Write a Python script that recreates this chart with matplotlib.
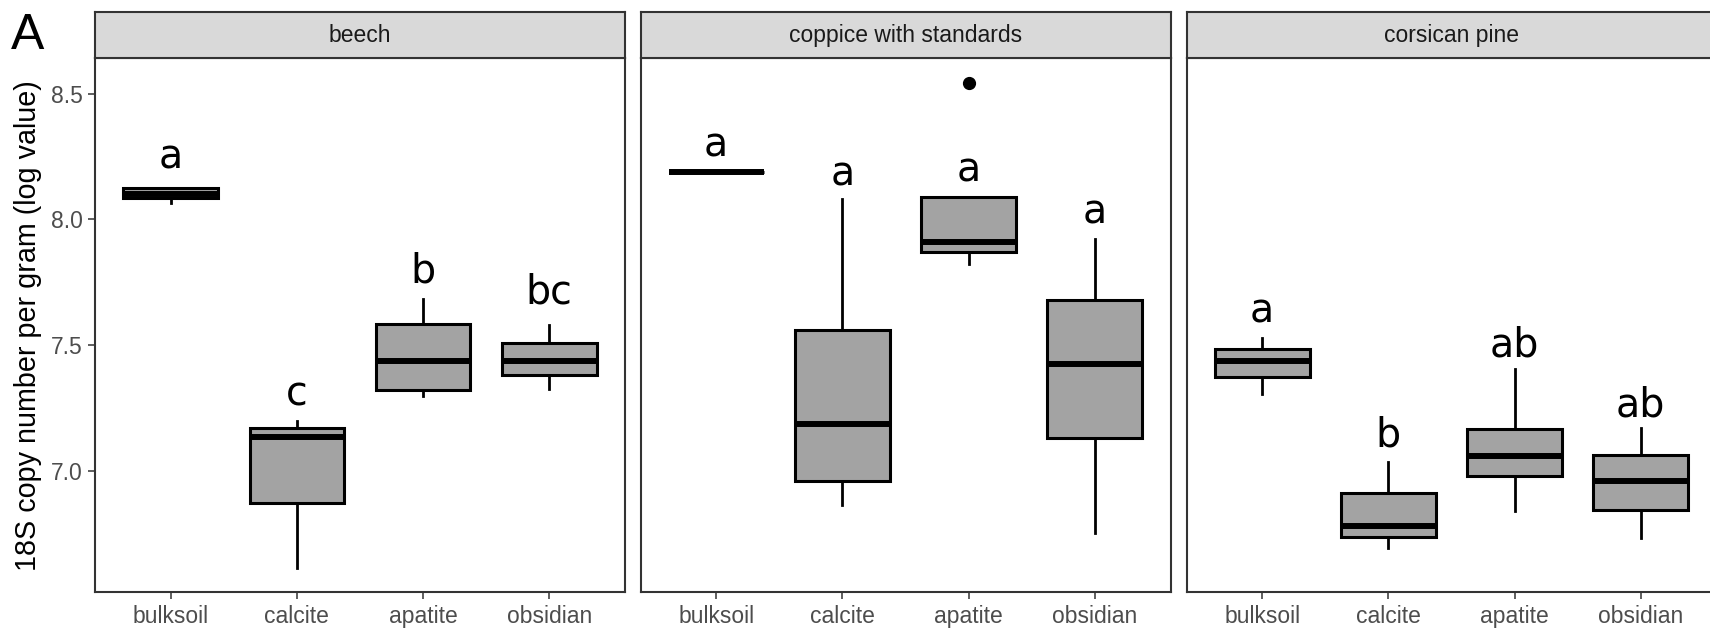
import matplotlib
matplotlib.use("Agg")
import matplotlib.pyplot as plt

plt.rcParams['font.family'] = ['Liberation Sans', 'DejaVu Sans']

minerals = ['bulksoil', 'calcite', 'apatite', 'obsidian']
forests = ['beech', 'coppice with standards', 'corsican pine']

# box stats per forest, in mineral order (log10 copies per gram)
whislo = {
    'beech': [8.064, 6.613, 7.296, 7.325],
    'coppice with standards': [8.187, 6.864, 7.821, 6.752],
    'corsican pine': [7.304, 6.693, 6.840, 6.731],
}
q1 = {
    'beech': [8.085, 6.872, 7.320, 7.381],
    'coppice with standards': [8.187, 6.960, 7.869, 7.131],
    'corsican pine': [7.371, 6.736, 6.981, 6.843],
}
med = {
    'beech': [8.102, 7.133, 7.437, 7.438],
    'coppice with standards': [8.187, 7.187, 7.910, 7.424],
    'corsican pine': [7.438, 6.782, 7.058, 6.958],
}
q3 = {
    'beech': [8.123, 7.170, 7.584, 7.510],
    'coppice with standards': [8.187, 7.558, 8.088, 7.680],
    'corsican pine': [7.485, 6.912, 7.165, 7.064],
}
whishi = {
    'beech': [8.123, 7.200, 7.685, 7.579],
    'coppice with standards': [8.187, 8.080, 8.088, 7.923],
    'corsican pine': [7.528, 7.035, 7.403, 7.171],
}
outliers = {
    'beech': [[], [], [], []],
    'coppice with standards': [[], [], [8.543], []],
    'corsican pine': [[], [], [], []],
}

# significance letters and where they sit
letters = {
    'beech': ['a', 'c', 'b', 'bc'],
    'coppice with standards': ['a', 'a', 'a', 'a'],
    'corsican pine': ['a', 'b', 'ab', 'ab'],
}
letter_y = {
    'beech': [8.200, 7.259, 7.749, 7.664],
    'coppice with standards': [8.251, 8.133, 8.149, 7.982],
    'corsican pine': [7.589, 7.096, 7.454, 7.216],
}

W, H = 1710, 631
fig = plt.figure(figsize=(W / 100, H / 100), dpi=100)

lefts = [95, 640.5, 1186.5]
pw = 530
top, bottom = 58.3, 592.3
strip_top = 12

for i, f in enumerate(forests):
    ax = fig.add_axes([lefts[i] / W, (H - bottom) / H, pw / W, (bottom - top) / H])
    stats = []
    for j, m in enumerate(minerals):
        stats.append(dict(whislo=whislo[f][j], q1=q1[f][j], med=med[f][j],
                          q3=q3[f][j], whishi=whishi[f][j], fliers=outliers[f][j]))
    ax.bxp(stats, positions=[1, 2, 3, 4], widths=0.75, patch_artist=True,
           showcaps=False,
           boxprops=dict(facecolor='#A3A3A3', edgecolor='black', linewidth=2.2,
                         joinstyle='miter'),
           medianprops=dict(color='black', linewidth=4.3, solid_capstyle='butt'),
           whiskerprops=dict(color='black', linewidth=2.0),
           flierprops=dict(marker='o', markerfacecolor='black', markeredgecolor='black',
                           markersize=8.5))
    for j, lab in enumerate(letters[f]):
        ax.text(j + 1, letter_y[f][j], lab, ha='center', va='baseline',
                fontsize=28.5, family='DejaVu Sans', color='black')

    ax.set_xlim(0.4, 4.6)
    ax.set_ylim(6.517, 8.64)
    ax.set_xticks([1, 2, 3, 4])
    ax.set_xticklabels(minerals)
    ax.set_yticks([7.0, 7.5, 8.0, 8.5])
    ax.tick_params(axis='both', colors='#333333', labelcolor='#4D4D4D',
                   labelsize=16.5, length=5, width=1.1)
    ax.tick_params(axis='x', pad=4)
    ax.tick_params(axis='y', pad=4)
    if i > 0:
        ax.tick_params(axis='y', left=False, labelleft=False)
    for s in ax.spines.values():
        s.set_color('#333333')
        s.set_linewidth(1.5)

    sax = fig.add_axes([lefts[i] / W, (H - top) / H, pw / W, (top - strip_top) / H])
    sax.set_facecolor('#D9D9D9')
    sax.set_xticks([])
    sax.set_yticks([])
    for s in sax.spines.values():
        s.set_color('#333333')
        s.set_linewidth(1.5)
    sax.text(0.5, 0.5, f, ha='center', va='center', fontsize=16.5,
             color='#1A1A1A', transform=sax.transAxes)

fig.text(28 / W, (H - 326) / H, '18S copy number per gram (log value)',
         rotation=90, ha='center', va='center', fontsize=20.7, color='black')
fig.text(11 / W, (H - 49) / H, 'A', ha='left', va='baseline', fontsize=36, color='black')

fig.savefig('out.png', dpi=100)
